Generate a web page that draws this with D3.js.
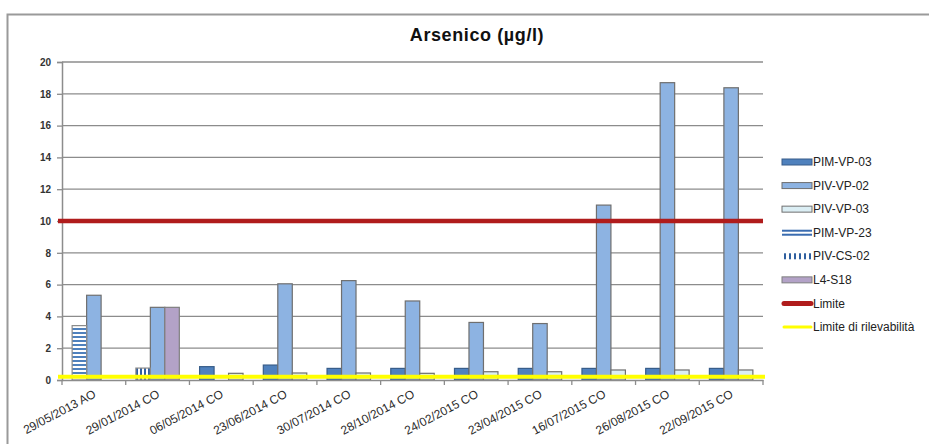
<!DOCTYPE html>
<html>
<head>
<meta charset="utf-8">
<script src="https://cdn.jsdelivr.net/npm/d3@7/dist/d3.min.js"></script>
<style>
  html, body { margin: 0; padding: 0; background: #fff; }
  svg { display: block; font-family: "Liberation Sans", Arial, sans-serif; }
</style>
</head>
<body>
<svg id="chart" width="929" height="444"></svg>
<script>
// Sampling dates
const dates = ["29/05/2013 AO", "29/01/2014 CO", "06/05/2014 CO", "23/06/2014 CO", "30/07/2014 CO",
  "28/10/2014 CO", "24/02/2015 CO", "23/04/2015 CO", "16/07/2015 CO", "26/08/2015 CO", "22/09/2015 CO"];

// Arsenic concentrations (µg/l) per well; null = not sampled
const pimVP03 = [null, null, 0.84, 0.94, 0.73, 0.73, 0.73, 0.73, 0.73, 0.73, 0.73];
const pivVP02 = [5.33, 4.57, null, 6.05, 6.25, 4.97, 3.62, 3.55, 11.0, 18.7, 18.38];
const pivVP03 = [null, null, 0.42, 0.44, 0.44, 0.42, 0.52, 0.52, 0.63, 0.63, 0.63];
const pimVP23 = [3.42, null, null, null, null, null, null, null, null, null, null];
const pivCS02 = [null, 0.75, null, null, null, null, null, null, null, null, null];
const l4S18   = [null, 4.57, null, null, null, null, null, null, null, null, null];

const limite = 10;              // regulatory limit
const limiteRilevabilita = 0.2; // detection limit

const yTicks = [0, 2, 4, 6, 8, 10, 12, 14, 16, 18, 20];

const series = [
  { name: "PIM-VP-03", values: pimVP03, slot: 0, fill: "#4f81bd", stroke: "#385d8a" },
  { name: "PIV-VP-02", values: pivVP02, slot: 1, fill: "#8db3e2", stroke: "#6f6f6f" },
  { name: "PIV-VP-03", values: pivVP03, slot: 2, fill: "#dbeef4", stroke: "#6f6f6f" },
  { name: "PIM-VP-23", values: pimVP23, slot: 0, fill: "url(#hstripes)", stroke: "#8a8a8a", legendType: "hlines" },
  { name: "PIV-CS-02", values: pivCS02, slot: 0, fill: "url(#vstripes)", stroke: "#8a8a8a", legendType: "vdash" },
  { name: "L4-S18",   values: l4S18,   slot: 2, fill: "#b3a2c7", stroke: "#7f7f7f" }
];

const svg = d3.select("#chart");

// fill patterns for the striped wells
const defs = svg.append("defs");
const hp = defs.append("pattern").attr("id", "hstripes").attr("patternUnits", "userSpaceOnUse")
  .attr("width", 6).attr("height", 4);
hp.append("rect").attr("width", 6).attr("height", 4).attr("fill", "#ffffff");
hp.append("rect").attr("y", 0).attr("width", 6).attr("height", 2).attr("fill", "#4f81bd");
const vp = defs.append("pattern").attr("id", "vstripes").attr("patternUnits", "userSpaceOnUse")
  .attr("width", 4).attr("height", 6);
vp.append("rect").attr("width", 4).attr("height", 6).attr("fill", "#ffffff");
vp.append("rect").attr("x", 0).attr("width", 2).attr("height", 6).attr("fill", "#2f5f9f");

// chart frame
svg.append("rect").attr("x", 7.5).attr("y", 14.5).attr("width", 940).attr("height", 450)
  .attr("fill", "#fff").attr("stroke", "#9a9a9a").attr("stroke-width", 2);

const plot = { left: 62, right: 763, top: 62, bottom: 380 };

const x = d3.scaleBand().domain(dates).range([plot.left, plot.right]).paddingInner(0).paddingOuter(0);
const y = d3.scaleLinear().domain([0, 20]).range([plot.bottom, plot.top]);

// three bar slots inside each date
const slotScale = d3.scaleBand().domain([0, 1, 2]).range([0, x.bandwidth()]).paddingInner(0).paddingOuter(0.7);

// title
svg.append("text").attr("x", 477).attr("y", 41).attr("text-anchor", "middle")
  .attr("font-size", 18).attr("font-weight", "bold").attr("fill", "#111")
  .attr("letter-spacing", 0.6)
  .text("Arsenico (µg/l)");

// gridlines
svg.append("g").selectAll("line").data(yTicks.filter(d => d > 0)).join("line")
  .attr("x1", plot.left).attr("x2", plot.right)
  .attr("y1", d => y(d)).attr("y2", d => y(d))
  .attr("stroke", "#8c8c8c").attr("stroke-width", 1.3);

// y axis
const yAxis = svg.append("g").attr("transform", `translate(${plot.left},0)`)
  .call(d3.axisLeft(y).tickValues(yTicks).tickSize(5).tickPadding(6));
yAxis.select(".domain").attr("stroke", "#8c8c8c").attr("stroke-width", 1.5);
yAxis.selectAll(".tick line").attr("stroke", "#8c8c8c").attr("stroke-width", 1.3);
yAxis.selectAll(".tick text").attr("font-size", 10).attr("font-weight", "bold")
  .attr("fill", "#333").attr("font-family", "Liberation Sans, Arial, sans-serif");

// bars
const barData = [];
series.forEach(s => s.values.forEach((v, i) => {
  if (v != null) barData.push({ s, date: dates[i], v });
}));
svg.append("g").selectAll("rect").data(barData).join("rect")
  .attr("x", d => x(d.date) + slotScale(d.s.slot))
  .attr("width", slotScale.bandwidth())
  .attr("y", d => y(d.v))
  .attr("height", d => y(0) - y(d.v))
  .attr("fill", d => d.s.fill)
  .attr("stroke", d => d.s.stroke)
  .attr("stroke-width", 1.2);

// x axis
const xAxis = svg.append("g").attr("transform", `translate(0,${plot.bottom})`)
  .call(d3.axisBottom(x).tickSize(0).tickPadding(0));
xAxis.select(".domain").attr("stroke", "#8c8c8c").attr("stroke-width", 1.5);
xAxis.selectAll(".tick text")
  .attr("font-size", 12).attr("fill", "#2a2a2a").attr("text-anchor", "end")
  .attr("font-family", "Liberation Sans, Arial, sans-serif")
  .attr("transform", "translate(1,13) rotate(-28)")
  .attr("dy", "0.35em");
// category boundary ticks
svg.append("g").selectAll("line").data(dates.concat(["end"])).join("line")
  .attr("x1", d => d === "end" ? plot.right : x(d))
  .attr("x2", d => d === "end" ? plot.right : x(d))
  .attr("y1", plot.bottom).attr("y2", plot.bottom + 5)
  .attr("stroke", "#8c8c8c").attr("stroke-width", 1.3);

// reference lines
svg.append("line").attr("x1", 58).attr("x2", plot.right)
  .attr("y1", y(limite)).attr("y2", y(limite))
  .attr("stroke", "#b01c1c").attr("stroke-width", 4.5);
svg.append("line").attr("x1", 58).attr("x2", plot.right + 2)
  .attr("y1", y(limiteRilevabilita)).attr("y2", y(limiteRilevabilita))
  .attr("stroke", "#ffff00").attr("stroke-width", 4);

// legend
const legendItems = series.map(s => ({ name: s.name, type: s.legendType || "bar", fill: s.fill, stroke: s.stroke }))
  .concat([
    { name: "Limite", type: "line", color: "#b01c1c", width: 5 },
    { name: "Limite di rilevabilità", type: "line", color: "#ffff00", width: 3 }
  ]);
const ly = d3.scaleLinear().domain([0, legendItems.length - 1]).range([162, 327]);
const lg = svg.append("g");
legendItems.forEach((it, i) => {
  const g = lg.append("g").attr("transform", `translate(782,${ly(i)})`);
  if (it.type === "bar") {
    g.append("rect").attr("x", 0).attr("y", -3).attr("width", 30).attr("height", 6)
      .attr("fill", it.fill).attr("stroke", it.stroke).attr("stroke-width", 1);
  } else if (it.type === "hlines") {
    g.append("rect").attr("x", 0).attr("y", -3).attr("width", 30).attr("height", 2).attr("fill", "#3a6cb0");
    g.append("rect").attr("x", 0).attr("y", 1).attr("width", 30).attr("height", 2).attr("fill", "#3a6cb0");
  } else if (it.type === "vdash") {
    d3.range(6).forEach(k => g.append("rect").attr("x", 2 + k * 5).attr("y", -3).attr("width", 2).attr("height", 6).attr("fill", "#2f5f9f"));
  } else {
    g.append("line").attr("x1", 2).attr("x2", 29).attr("y1", 0).attr("y2", 0)
      .attr("stroke", it.color).attr("stroke-width", it.width).attr("stroke-linecap", "round");
  }
  g.append("text").attr("x", 31).attr("y", 0).attr("dy", "0.35em")
    .attr("font-size", 12).attr("fill", "#222").text(it.name);
});
</script>
</body>
</html>
